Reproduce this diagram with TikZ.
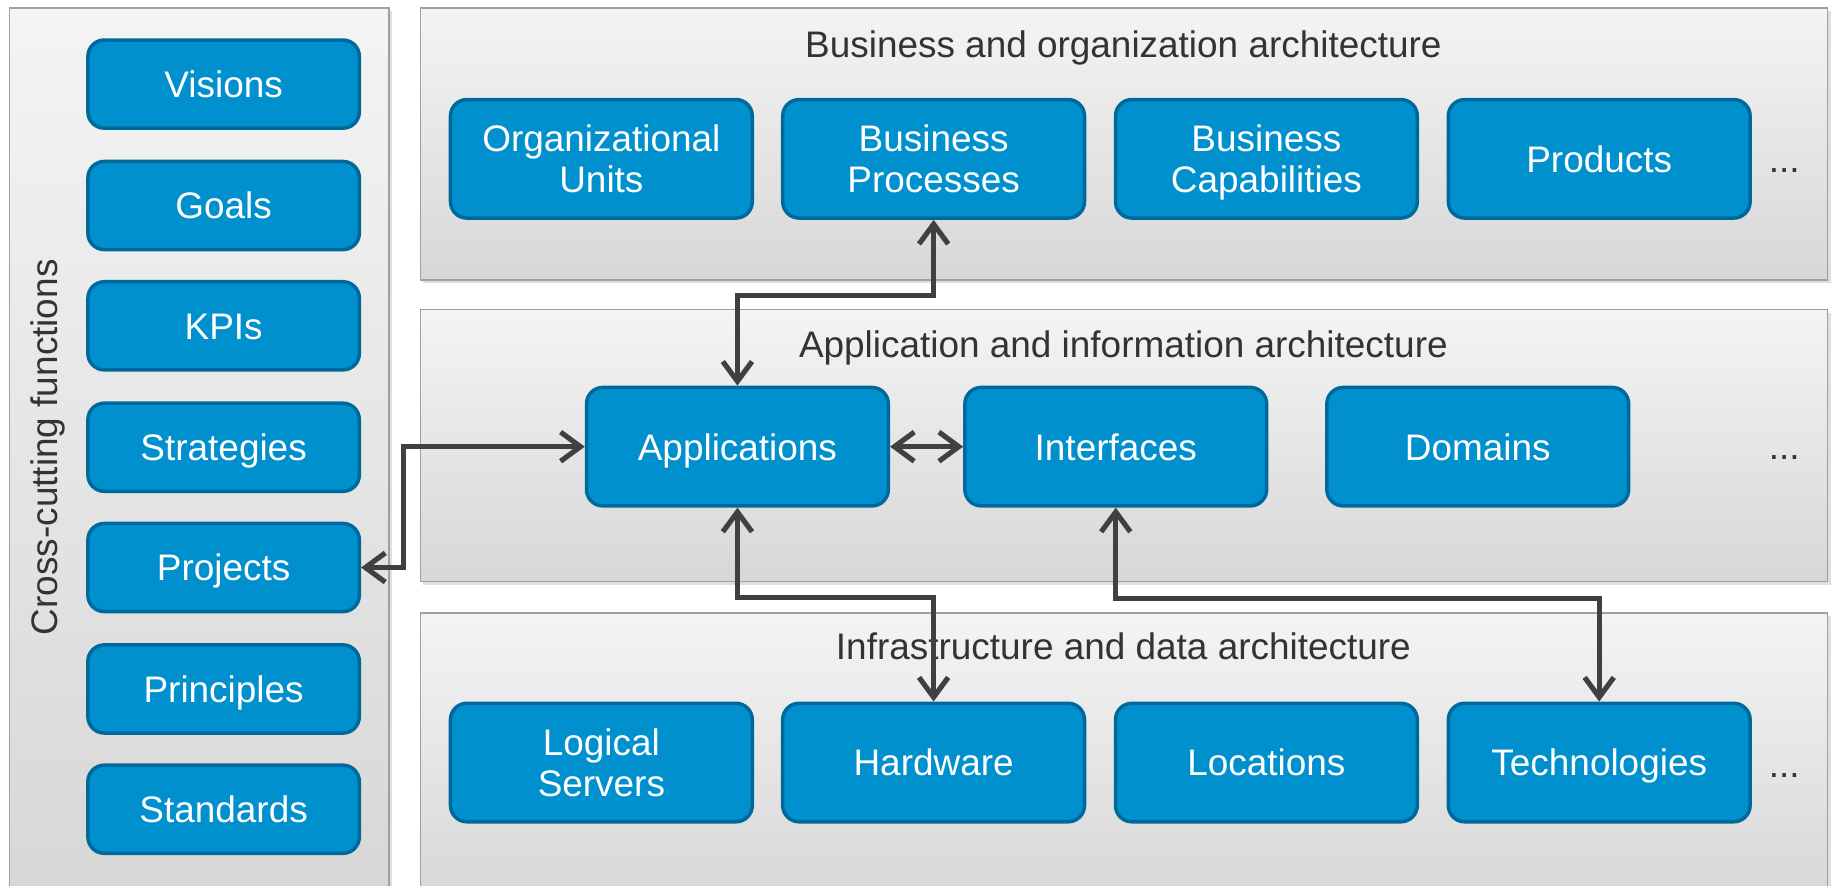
\documentclass[tikz,border=0pt]{standalone}
\usepackage{fontspec}
\setmainfont{Liberation Sans}
\usetikzlibrary{arrows.meta,shadows}
\definecolor{boxfill}{HTML}{0090CD}
\definecolor{boxline}{HTML}{00699B}
\definecolor{arrowc}{HTML}{404040}
\definecolor{paneltop}{HTML}{F4F4F4}
\definecolor{panelbot}{HTML}{D7D7D8}
\definecolor{panelline}{HTML}{A0A0A0}
\definecolor{titlec}{HTML}{333333}
\begin{document}
\begin{tikzpicture}[x=0.02cm,y=-0.02cm,
  txt/.style={font=\fontsize{18}{20}\selectfont},
  oneline/.style={text height=13.1pt, text depth=0pt},
  twoline/.style={text height=33.1pt, text depth=0pt},
  panel/.style={draw=panelline, line width=0.8pt, top color=paneltop, bottom color=panelbot,
    drop shadow={shadow xshift=1.5pt, shadow yshift=-1.5pt, opacity=0.25}},
  title/.style={txt, oneline, text=titlec},
  bbox/.style={txt, oneline, draw=boxline, fill=boxfill, line width=1.7pt, rounded corners=0.28cm,
    text=white, align=center, minimum width=5.17cm, minimum height=2.03cm, inner sep=1pt},
  bbox2/.style={bbox, twoline},
  sbox/.style={bbox, minimum width=4.65cm, minimum height=1.51cm},
  conn/.style={draw=arrowc, line width=2.5pt, line cap=round,
    {Straight Barb[length=0.34cm,width=0.5cm,line width=2.5pt]}-{Straight Barb[length=0.34cm,width=0.5cm,line width=2.5pt]}},
  dots/.style={txt, text=titlec}
]
\useasboundingbox (0,0) rectangle (1568,758);
\fill[white] (0,0) rectangle (1568,758);

% panels
\draw[panel] (8,7) rectangle (333,770);
\draw[panel] (360,7) rectangle (1565,240);
\draw[panel] (360,265) rectangle (1565,498);
\draw[panel] (360,525) rectangle (1565,770);

% left column
\node[title, rotate=90] (cross) at (38,383) {Cross-cutting functions};
\node[sbox] (vis) at (191.5,72) {Visions};
\node[sbox] (goal) at (191.5,176) {Goals};
\node[sbox] (kpi) at (191.5,279) {KPIs};
\node[sbox] (strat) at (191.5,383) {Strategies};
\node[sbox] (proj) at (191.5,486) {Projects};
\node[sbox] (princ) at (191.5,590) {Principles};
\node[sbox] (std) at (191.5,693) {Standards};

% business layer
\node[title] (t1) at (962,38) {Business and organization architecture};
\node[bbox2] (org) at (515,136) {Organizational\\Units};
\node[bbox2] (bp) at (799.5,136) {Business\\Processes};
\node[bbox2] (bc) at (1084.5,136) {Business\\Capabilities};
\node[bbox] (prod) at (1369.5,136) {Products};
\node[dots] (d1) at (1528,146) {...};

% application layer
\node[title] (t2) at (962,295) {Application and information architecture};
\node[bbox] (app) at (631.5,382.5) {Applications};
\node[bbox] (intf) at (955.5,382.5) {Interfaces};
\node[bbox] (dom) at (1265.5,382.5) {Domains};
\node[dots] (d2) at (1528,392) {...};

% infrastructure layer
\node[title] (t3) at (962,553) {Infrastructure and data architecture};
\node[bbox2] (ls) at (515,653) {Logical\\Servers};
\node[bbox] (hw) at (799.5,653) {Hardware};
\node[bbox] (loc) at (1084.5,653) {Locations};
\node[bbox] (tech) at (1369.5,653) {Technologies};
\node[dots] (d3) at (1528,664) {...};

% connectors
\draw[conn] (bp.south) -- ++(0,65) -| (app.north);
\draw[conn] (proj.east) -- ++(36,0) |- (app.west);
\draw[conn] (app.east) -- (intf.west);
\draw[conn] (app.south) -- ++(0,77) -| (hw.north);
\draw[conn] (intf.south) -- ++(0,78) -| (tech.north);
\end{tikzpicture}
\end{document}
